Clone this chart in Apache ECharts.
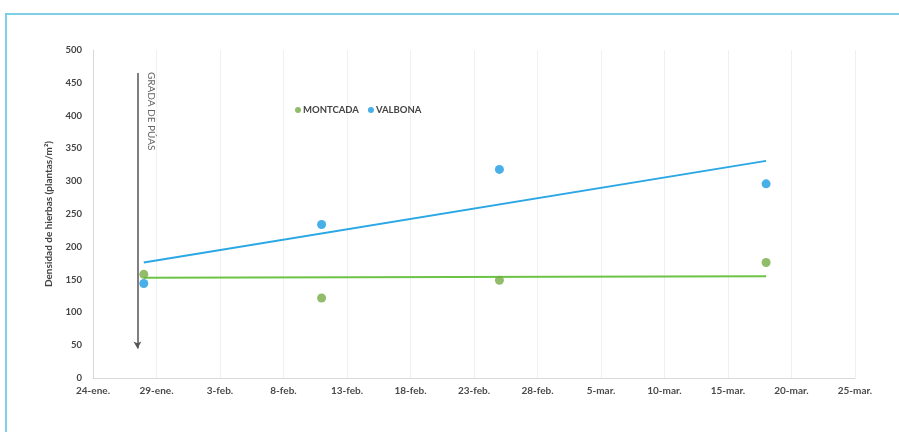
<!DOCTYPE html>
<html><head><meta charset="utf-8">
<script src="https://cdn.jsdelivr.net/npm/echarts@6/dist/echarts.min.js"></script>
<style>html,body{margin:0;padding:0;background:#fff}#c{width:899px;height:432px}</style>
</head><body><div id="c"></div>
<script>
// Day offsets from 24-ene
const tickLabels = ['24-ene.','29-ene.','3-feb.','8-feb.','13-feb.','18-feb.','23-feb.','28-feb.','5-mar.','10-mar.','15-mar.','20-mar.','25-mar.'];
const sampleDays = [4, 18, 32, 53]; // 28-ene, 11-feb, 25-feb, 18-mar
const montcada = [158, 122, 149, 176];
const valbona = [144, 234, 318, 296];
const trendDays = [4, 53];
const montcadaTrend = [153, 155];
const valbonaTrend = [176, 331];
const gradaDay = 3.5;
const gradaRange = [465, 45];

const chart = echarts.init(document.getElementById('c'));
const green = '#76ad45', greenLine = '#6cc447', blue = '#1b9be2', blueLine = '#2aa7e4';
const font = 'Lato, "Open Sans", sans-serif';
const frame = {type: 'rect', shape: {x: 6, y: 14, width: 1000, height: 500}, style: {fill: 'none', stroke: '#7fd0e6', lineWidth: 2}, silent: true};
chart.setOption({
  animation: false,
  grid: {left: 93, right: 44, top: 50, bottom: 54},
  legend: {
    left: 290, top: 100, itemWidth: 6, itemHeight: 6, itemGap: 9,
    textStyle: {fontFamily: font, fontWeight: 'bold', fontSize: 9.5, color: '#444', padding: [0,0,0,-3]},
    data: [{name: 'MONTCADA', icon: 'circle', itemStyle:{color: green}}, {name: 'VALBONA', icon: 'circle', itemStyle:{color: blue}}]
  },
  xAxis: {
    type: 'value', min: 0, max: 60, interval: 5,
    axisLine: {lineStyle: {color: '#d9d9d9'}}, axisTick: {show: false},
    splitLine: {show: true, lineStyle: {color: '#f0f0f0'}},
    axisLabel: {fontFamily: font, fontWeight: 'bold', fontSize: 10, color: '#4a4a4a', margin: 8,
      formatter: v => tickLabels[Math.round(v / 5)]}
  },
  yAxis: {
    type: 'value', min: 0, max: 500, interval: 50,
    name: 'Densidad de hierbas (plantas/m²)', nameLocation: 'middle', nameGap: 39, nameRotate: 90,
    nameTextStyle: {fontFamily: font, fontWeight: 'bold', fontSize: 10, color: '#444'},
    axisLine: {show: true, lineStyle: {color: '#d9d9d9'}}, axisTick: {show: false},
    splitLine: {show: false},
    axisLabel: {fontFamily: font, fontWeight: 'bold', fontSize: 9.5, color: '#444', margin: 11}
  },
  series: [
    {name: 'MONTCADA', type: 'scatter', symbolSize: 9, itemStyle: {color: green},
     data: sampleDays.map((d, i) => [d, montcada[i]]), z: 5},
    {name: 'VALBONA', type: 'scatter', symbolSize: 9, itemStyle: {color: blue},
     data: sampleDays.map((d, i) => [d, valbona[i]]), z: 5},
    {name: 'mt', type: 'line', showSymbol: false, symbol: 'none', lineStyle: {color: greenLine, width: 2},
     data: trendDays.map((d, i) => [d, montcadaTrend[i]]), z: 3},
    {name: 'vt', type: 'line', showSymbol: false, symbol: 'none', lineStyle: {color: blueLine, width: 2},
     data: trendDays.map((d, i) => [d, valbonaTrend[i]]), z: 3},
    {name: 'grada', type: 'line', data: [], markLine: {
      silent: true, symbol: ['none', 'arrow'], symbolSize: [6, 7], label: {show: false},
      lineStyle: {color: '#555', width: 1.5, type: 'solid'},
      data: [[{coord: [gradaDay, gradaRange[0]]}, {coord: [gradaDay, gradaRange[1]]}]]
    }}
  ],
  graphic: [frame]
});
const p = chart.convertToPixel({gridIndex: 0}, [gradaDay, gradaRange[0]]);
chart.setOption({graphic: [
  frame,
  {type: 'text', x: p[0] + 9, y: p[1] - 1, rotation: -Math.PI / 2, z: 100,
   style: {text: 'GRADA DE PÚAS', fill: '#666', font: '10px ' + font, textAlign: 'left', textVerticalAlign: 'bottom'}}
]});
</script></body></html>
